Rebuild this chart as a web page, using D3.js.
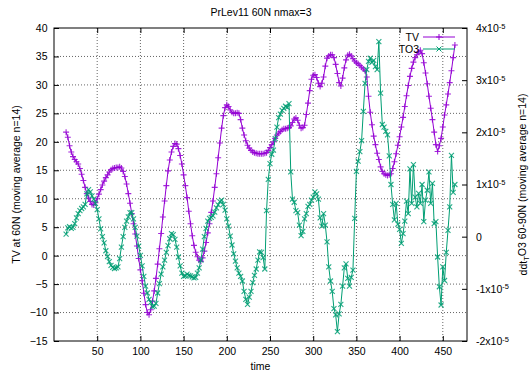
<!DOCTYPE html>
<html>
<head>
<meta charset="utf-8">
<script src="https://cdn.jsdelivr.net/npm/d3@7"></script>
<style>
  body { margin: 0; background: #fff; }
  svg text { font-family: "Liberation Sans", Arial, sans-serif; font-size: 10.5px; fill: #000; }
</style>
</head>
<body>
<svg id="chart" width="531" height="374"></svg>
<script>
// time axis (moving average n=14, every 2nd step)
const time = [
  14, 16, 18, 20, 22, 24, 26, 28, 30, 32,
  34, 36, 38, 40, 42, 44, 46, 48, 50, 52,
  54, 56, 58, 60, 62, 64, 66, 68, 70, 72,
  74, 76, 78, 80, 82, 84, 86, 88, 90, 92,
  94, 96, 98, 100, 102, 104, 106, 108, 110, 112,
  114, 116, 118, 120, 122, 124, 126, 128, 130, 132,
  134, 136, 138, 140, 142, 144, 146, 148, 150, 152,
  154, 156, 158, 160, 162, 164, 166, 168, 170, 172,
  174, 176, 178, 180, 182, 184, 186, 188, 190, 192,
  194, 196, 198, 200, 202, 204, 206, 208, 210, 212,
  214, 216, 218, 220, 222, 224, 226, 228, 230, 232,
  234, 236, 238, 240, 242, 244, 246, 248, 250, 252,
  254, 256, 258, 260, 262, 264, 266, 268, 270, 272,
  274, 276, 278, 280, 282, 284, 286, 288, 290, 292,
  294, 296, 298, 300, 302, 304, 306, 308, 310, 312,
  314, 316, 318, 320, 322, 324, 326, 328, 330, 332,
  334, 336, 338, 340, 342, 344, 346, 348, 350, 352,
  354, 356, 358, 360, 362, 364, 366, 368, 370, 372,
  374, 376, 378, 380, 382, 384, 386, 388, 390, 392,
  394, 396, 398, 400, 402, 404, 406, 408, 410, 412,
  414, 416, 418, 420, 422, 424, 426, 428, 430, 432,
  434, 436, 438, 440, 442, 444, 446, 448, 450, 452,
  454, 456, 458, 460, 462, 464
];

// TV at 60N (left axis)
const tv = [
  21.7, 20.8, 19.3, 18.2, 17.4, 16.9, 16.5, 16.1, 15.3, 14.3,
  13.2, 12.0, 10.9, 10.1, 9.5, 9.0, 8.9, 9.3, 10.0, 10.8,
  11.6, 12.4, 13.1, 13.7, 14.2, 14.7, 15.1, 15.3, 15.4, 15.5,
  15.5, 15.6, 15.4, 14.8, 13.9, 12.6, 10.9, 9.2, 7.4, 5.6,
  3.8, 1.7, -0.5, -2.5, -4.4, -6.6, -8.6, -10.0, -10.4, -9.5,
  -8.0, -6.2, -4.0, -1.5, 1.2, 3.9, 6.8, 9.6, 12.3, 14.9,
  16.8, 18.2, 19.2, 19.7, 19.6, 18.8, 17.6, 16.1, 14.2, 12.3,
  10.2, 7.8, 5.6, 3.5, 1.8, 0.6, -0.2, -0.8, -1.0, -0.4,
  0.8, 2.3, 4.0, 5.6, 7.6, 9.6, 12.0, 14.4, 17.2, 19.8,
  22.4, 24.6, 26.0, 26.5, 26.2, 25.6, 25.2, 25.0, 25.0, 25.1,
  25.0, 23.9, 22.4, 21.2, 20.2, 19.4, 18.9, 18.5, 18.2, 18.1,
  18.0, 17.9, 17.9, 17.9, 17.9, 18.0, 18.1, 18.5, 19.0, 19.5,
  20.0, 20.6, 21.2, 21.5, 21.8, 22.1, 22.3, 22.3, 22.4, 22.5,
  22.8, 23.4, 24.0, 24.2, 23.8, 22.9, 22.4, 22.5, 22.9, 24.8,
  26.8, 29.0, 31.0, 31.7, 31.8, 31.3, 30.3, 29.7, 30.3, 31.4,
  33.3, 34.7, 35.1, 35.3, 35.3, 34.8, 33.6, 32.0, 30.4, 29.8,
  31.2, 33.0, 34.4, 35.2, 35.4, 35.1, 34.6, 34.2, 33.9, 33.7,
  33.4, 33.1, 32.8, 32.5, 31.4, 28.0, 25.2, 23.0, 21.0, 19.5,
  18.0, 16.9, 15.6, 14.8, 14.4, 14.2, 14.1, 14.2, 14.4, 15.3,
  16.5, 17.9, 19.4, 20.9, 22.6, 24.3, 26.2, 28.1, 29.9, 31.5,
  32.9, 34.0, 34.8, 35.3, 35.8, 36.1, 35.5, 33.9, 32.1, 30.2,
  28.0, 25.9, 23.9, 21.7, 19.5, 18.3, 19.3, 20.6, 22.6, 24.7,
  26.5, 28.4, 30.4, 32.5, 34.8, 37.0
];

// ddt_T O3 60-90N, in units of 1e-5 (right axis)
const to3 = [
  0.05, 0.17, 0.19, 0.16, 0.18, 0.25, 0.36, 0.44, 0.50, 0.54,
  0.57, 0.62, 0.82, 0.90, 0.86, 0.78, 0.72, 0.64, 0.52, 0.34,
  0.15, 0.00, -0.12, -0.27, -0.38, -0.48, -0.55, -0.59, -0.61, -0.60,
  -0.58, -0.42, -0.20, 0.00, 0.18, 0.30, 0.38, 0.46, 0.46, 0.34,
  0.18, 0.01, -0.18, -0.36, -0.56, -0.76, -0.95, -1.08, -1.20, -1.26,
  -1.34, -1.33, -1.28, -1.08, -0.90, -0.72, -0.58, -0.45, -0.30, -0.17,
  -0.04, 0.06, 0.04, -0.05, -0.20, -0.39, -0.56, -0.70, -0.76, -0.75,
  -0.72, -0.74, -0.75, -0.77, -0.79, -0.78, -0.70, -0.60, -0.45, -0.24,
  0.00, 0.16, 0.30, 0.35, 0.37, 0.40, 0.47, 0.55, 0.61, 0.67,
  0.70, 0.62, 0.51, 0.34, 0.20, 0.01, -0.16, -0.33, -0.47, -0.60,
  -0.70, -0.76, -0.85, -1.05, -1.20, -1.30, -1.16, -1.05, -0.88, -0.74,
  -0.62, -0.45, -0.29, -0.30, -0.40, -0.62, 0.50, 1.10, 1.40, 1.58,
  1.66, 1.88, 2.10, 2.28, 2.35, 2.42, 2.46, 2.50, 2.48, 2.55,
  1.24, 0.72, 0.66, 0.50, 0.46, 0.22, 0.02, 0.10, 0.34, 0.44,
  0.58, 0.62, 0.70, 0.76, 0.86, 0.82, 0.72, 0.36, 0.20, 0.44,
  0.22, -0.10, -0.58, -0.85, -1.05, -1.38, -1.50, -1.82, -1.48, -1.30,
  -0.95, -0.60, -0.52, -0.80, -0.95, -0.78, -0.64, 0.35, 1.25, 1.45,
  1.63, 1.84, 2.40, 2.94, 3.20, 3.36, 3.42, 3.34, 3.38, 3.26,
  3.20, 3.74, 2.75, 2.15, 2.10, 2.02, 1.95, 1.55, 1.00, 0.62,
  0.32, 0.64, 0.24, 0.14, -0.13, 0.06, 0.30, 0.68, 0.44, 1.30,
  0.64, 1.38, 0.76, 0.57, 0.83, 0.64, 1.00, 0.29, 0.70, 0.89,
  1.24, 0.64, 1.02, 0.25, 0.29, -0.39, -0.96, -1.31, -0.58, -0.84,
  -0.30, 0.12, 0.57, 1.56, 0.85, 1.00
];

const xTicks = [50, 100, 150, 200, 250, 300, 350, 400, 450];
const yTicks = [-15, -10, -5, 0, 5, 10, 15, 20, 25, 30, 35, 40];
const y2Ticks = [-2, -1, 0, 1, 2, 3, 4];
const seriesNames = ['TV', 'TO3'];
const colors = ['#9400d3', '#009e73'];

const plotLeft = 54, plotRight = 467, plotTop = 28, plotBottom = 341;

const svg = d3.select('#chart');

const x = d3.scaleLinear().domain([0, 478]).range([plotLeft, plotRight]);
const y = d3.scaleLinear().domain([-15, 40]).range([plotBottom, plotTop]);
const y2 = d3.scaleLinear().domain([-2, 4]).range([plotBottom, plotTop]);

// grid
const grid = svg.append('g')
  .attr('stroke', '#555')
  .attr('stroke-width', 0.9)
  .attr('stroke-dasharray', '1,2');

grid.selectAll('.gx')
  .data(xTicks)
  .enter().append('line')
  .attr('x1', d => x(d)).attr('x2', d => x(d))
  .attr('y1', plotTop).attr('y2', plotBottom);

grid.selectAll('.gy')
  .data(yTicks.filter(d => d > -15 && d < 40))
  .enter().append('line')
  .attr('x1', plotLeft).attr('x2', plotRight)
  .attr('y1', d => y(d)).attr('y2', d => y(d));

// axes, gnuplot style ticks pointing inwards
svg.append('g')
  .attr('transform', 'translate(0,' + plotBottom + ')')
  .call(d3.axisBottom(x).tickValues(xTicks).tickSizeInner(-5).tickSizeOuter(0).tickPadding(7));

svg.append('g')
  .attr('transform', 'translate(0,' + plotTop + ')')
  .call(d3.axisTop(x).tickValues(xTicks).tickSizeInner(-5).tickSizeOuter(0).tickFormat(''));

svg.append('g')
  .attr('transform', 'translate(' + plotLeft + ',0)')
  .call(d3.axisLeft(y).tickValues(yTicks).tickSizeInner(-5).tickSizeOuter(0).tickPadding(6.5));

const ay2 = svg.append('g')
  .attr('transform', 'translate(' + plotRight + ',0)')
  .call(d3.axisRight(y2).tickValues(y2Ticks).tickSizeInner(-5).tickSizeOuter(0).tickPadding(9)
    .tickFormat(d => d === 0 ? '0' : d + 'x10'));

ay2.selectAll('.tick text')
  .filter(d => d !== 0)
  .append('tspan')
  .attr('dy', '-0.45em')
  .style('font-size', '7.5px')
  .text('-5');

svg.selectAll('.domain').remove();
svg.selectAll('.tick line').attr('stroke', '#000');
svg.selectAll('.tick text').style('font-size', '10.5px').attr('fill', '#000');

// series
const line = d3.line();

function drawSeries(vals, yScale, color, marker) {
  const pts = time.map((t, i) => [x(t), yScale(vals[i])]);
  svg.append('path')
    .datum(pts)
    .attr('fill', 'none')
    .attr('stroke', color)
    .attr('stroke-width', 1)
    .attr('d', line);
  svg.append('g')
    .selectAll('path')
    .data(pts)
    .enter().append('path')
    .attr('transform', d => 'translate(' + d[0] + ',' + d[1] + ')')
    .attr('d', marker)
    .attr('fill', 'none')
    .attr('stroke', color)
    .attr('stroke-opacity', 0.85)
    .attr('stroke-width', 1.1);
}

const plus = 'M-3,0H3M0,-3V3';
const cross = 'M-2.5,-2.5L2.5,2.5M-2.5,2.5L2.5,-2.5';

drawSeries(tv, y, colors[0], plus);
drawSeries(to3, y2, colors[1], cross);

// border
svg.append('rect')
  .attr('x', plotLeft).attr('y', plotTop)
  .attr('width', plotRight - plotLeft).attr('height', plotBottom - plotTop)
  .attr('fill', 'none')
  .attr('stroke', '#000')
  .attr('stroke-width', 1);

// legend
const legend = svg.append('g');
const markers = [plus, cross];
seriesNames.forEach((name, i) => {
  const ly = 37 + i * 12;
  legend.append('text')
    .attr('x', 419).attr('y', ly + 4)
    .attr('text-anchor', 'end')
    .text(name);
  legend.append('line')
    .attr('x1', 423).attr('x2', 455)
    .attr('y1', ly).attr('y2', ly)
    .attr('stroke', colors[i]);
  legend.append('path')
    .attr('transform', 'translate(439,' + ly + ')')
    .attr('d', markers[i])
    .attr('fill', 'none')
    .attr('stroke', colors[i]);
});

// titles
svg.append('text')
  .attr('x', 261).attr('y', 16)
  .attr('text-anchor', 'middle')
  .text('PrLev11 60N nmax=3');

svg.append('text')
  .attr('x', (plotLeft + plotRight) / 2).attr('y', 370)
  .attr('text-anchor', 'middle')
  .text('time');

svg.append('text')
  .attr('transform', 'translate(20,' + (plotTop + plotBottom) / 2 + ') rotate(-90)')
  .attr('text-anchor', 'middle')
  .text('TV at 60N (moving average n=14)');

const r = svg.append('text')
  .attr('transform', 'translate(527,' + (plotTop + plotBottom) / 2 + ') rotate(-90)')
  .attr('text-anchor', 'middle');
r.append('tspan').text('ddt');
r.append('tspan').attr('dy', '0.3em').style('font-size', '7.5px').text('T');
r.append('tspan').attr('dy', '-0.3em').text('O3 60-90N (moving average n=14)');
</script>
</body>
</html>
